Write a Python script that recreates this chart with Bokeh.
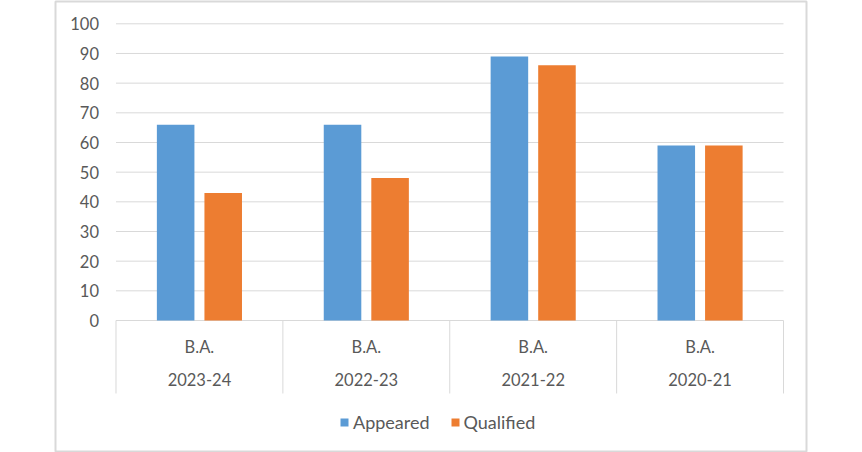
from bokeh.plotting import figure
from bokeh.models import (LinearAxis, FixedTicker, ColumnDataSource, Range1d,
                          Legend, LegendItem)
from bokeh.transform import dodge
from bokeh.embed import file_html
from bokeh.resources import INLINE

# ---- data ----
years = ["2023-24", "2022-23", "2021-22", "2020-21"]
course = "B.A."
appeared = [66, 66, 89, 59]
qualified = [43, 48, 86, 59]
y_ticks = [0, 10, 20, 30, 40, 50, 60, 70, 80, 90, 100]

FONT = "Lato"
TXT = "#595959"
GRID = "#d9d9d9"
BLUE = "#5B9BD5"
ORANGE = "#ED7D31"

n = len(years)
xpos = [i + 0.5 for i in range(n)]
src = ColumnDataSource(dict(x=xpos, appeared=appeared, qualified=qualified))

p = figure(width=862, height=452, output_backend="svg", toolbar_location=None,
           x_axis_type=None, y_axis_type=None,
           x_range=Range1d(-0.3625, n + 0.1378),
           y_range=Range1d(-44.15, 107.52),
           min_border_left=55, min_border_right=56,
           min_border_top=1, min_border_bottom=1)
p.outline_line_color = GRID
p.outline_line_width = 2
p.background_fill_color = "white"
p.border_fill_color = "white"

# gridlines (only across the plot area)
p.segment(x0=[0] * len(y_ticks), x1=[n] * len(y_ticks), y0=y_ticks, y1=y_ticks,
          line_color=GRID, line_width=1)
# category separators
p.segment(x0=list(range(n + 1)), x1=list(range(n + 1)),
          y0=[0] * (n + 1), y1=[-24.6] * (n + 1), line_color=GRID, line_width=1)

r1 = p.vbar(x=dodge("x", -0.1425, range=p.x_range), top="appeared", width=0.225,
            bottom=0, source=src, fill_color=BLUE, line_color=None)
r2 = p.vbar(x=dodge("x", 0.1425, range=p.x_range), top="qualified", width=0.225,
            bottom=0, source=src, fill_color=ORANGE, line_color=None)

# y axis
yax = LinearAxis(ticker=FixedTicker(ticks=y_ticks), fixed_location=0)
yax.axis_line_color = None
yax.major_tick_line_color = None
yax.minor_tick_line_color = None
yax.major_tick_in = 0
yax.major_tick_out = 0
yax.major_label_standoff = 17
yax.major_label_text_font = FONT
yax.major_label_text_font_size = "16.5px"
yax.major_label_text_color = TXT
p.add_layout(yax, "left")

# two-row category axis
def cat_axis(labels, standoff):
    ax = LinearAxis(ticker=FixedTicker(ticks=xpos), fixed_location=0)
    ax.major_label_overrides = {x: lab for x, lab in zip(xpos, labels)}
    ax.axis_line_color = None
    ax.major_tick_line_color = None
    ax.minor_tick_line_color = None
    ax.major_tick_in = 0
    ax.major_tick_out = 0
    ax.major_label_standoff = standoff
    ax.major_label_text_font = FONT
    ax.major_label_text_font_size = "16.5px"
    ax.major_label_text_color = TXT
    return ax

p.add_layout(cat_axis([course] * n, 16), "below")
p.add_layout(cat_axis(years, 52), "below")

legend = Legend(items=[LegendItem(label="Appeared", renderers=[r1]),
                       LegendItem(label="Qualified", renderers=[r2])],
                orientation="horizontal", location=(284, 18))
legend.margin = 0
legend.padding = 0
legend.spacing = 20
legend.glyph_width = 10
legend.glyph_height = 10
legend.label_standoff = 4
legend.label_text_font = FONT
legend.label_text_font_size = "18px"
legend.label_text_color = TXT
legend.border_line_color = None
legend.background_fill_alpha = 0
p.add_layout(legend, "center")

open("out.html", "w").write(file_html(p, INLINE))
